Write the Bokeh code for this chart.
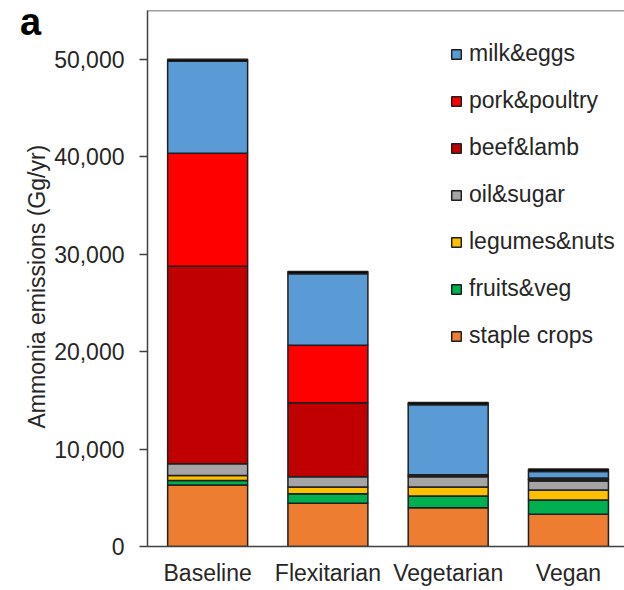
from bokeh.plotting import figure
from bokeh.models import (ColumnDataSource, Range1d, FixedTicker, NumeralTickFormatter,
                          Legend, LegendItem, Span, Div, Title)
from bokeh.layouts import column
from bokeh.embed import file_html
from bokeh.resources import INLINE

# ---- data ----
categories = ["Baseline", "Flexitarian", "Vegetarian", "Vegan"]
staple_crops = [6300, 4430, 3980, 3300]
fruits_veg = [480, 990, 1200, 1470]
legumes_nuts = [510, 680, 920, 1030]
oil_sugar = [1190, 1060, 1060, 920]
beef_lamb = [20280, 7590, 100, 150]
pork_poultry = [11590, 5890, 100, 150]
milk_eggs = [9440, 7340, 7180, 680]
other = [200, 230, 230, 240]

series = ["staple crops", "fruits&veg", "legumes&nuts", "oil&sugar",
          "beef&lamb", "pork&poultry", "milk&eggs", "other"]
colors = ["#ED7D31", "#00B050", "#FFC000", "#A5A5A5",
          "#C00000", "#FF0000", "#5B9BD5", "#000000"]
y_ticks = [0, 10000, 20000, 30000, 40000, 50000]

source = ColumnDataSource(data={
    "x": list(range(len(categories))),
    "staple crops": staple_crops,
    "fruits&veg": fruits_veg,
    "legumes&nuts": legumes_nuts,
    "oil&sugar": oil_sugar,
    "beef&lamb": beef_lamb,
    "pork&poultry": pork_poultry,
    "milk&eggs": milk_eggs,
    "other": other,
})

FONT = "Liberation Sans"
AX = "#404040"

p = figure(width=624, height=590, output_backend="svg", toolbar_location=None,
           x_range=Range1d(-0.5, 3.466), y_range=Range1d(0, 55000),
           min_border_left=147, min_border_right=0, min_border_top=10,
           min_border_bottom=44)
p.outline_line_color = None
p.xgrid.visible = False
p.ygrid.visible = False
p.background_fill_color = "white"

renderers = p.vbar_stack(series, x="x", width=0.665, color=colors, source=source,
                         line_color="#1f1f1f", line_width=1.5)

# x axis
p.xaxis.ticker = FixedTicker(ticks=list(range(len(categories))))
p.xaxis.major_label_overrides = {i: c for i, c in enumerate(categories)}
p.xaxis.major_tick_line_color = None
p.xaxis.minor_tick_line_color = None
p.xaxis.major_tick_out = 0
p.xaxis.major_label_standoff = 13
p.xaxis.major_label_text_font = FONT
p.xaxis.major_label_text_font_size = "23px"
p.xaxis.major_label_text_color = "#262626"
p.xaxis.axis_line_color = AX
p.xaxis.axis_line_width = 1.5

# y axis
p.yaxis.ticker = FixedTicker(ticks=y_ticks)
p.yaxis.formatter = NumeralTickFormatter(format="0,0")
p.yaxis.minor_tick_line_color = None
p.yaxis.major_tick_in = 0
p.yaxis.major_tick_out = 8
p.yaxis.major_tick_line_color = AX
p.yaxis.major_tick_line_width = 1.5
p.yaxis.axis_line_color = AX
p.yaxis.axis_line_width = 1.5
p.yaxis.major_label_standoff = 15
p.yaxis.major_label_text_font = FONT
p.yaxis.major_label_text_font_size = "23px"
p.yaxis.major_label_text_color = "#262626"

# y axis title (placed as a left-side title so it can sit a little below centre)
p.add_layout(Title(text="Ammonia emissions (Gg/yr)", align="left", offset=118,
                   standoff=4, text_font=FONT, text_font_size="23px",
                   text_font_style="normal", text_color="#262626"), "left")

# top border line
p.add_layout(Span(location=55000, dimension="width", line_color=AX, line_width=1.5))

# legend (top-to-bottom: milk&eggs ... staple crops)
legend_names = series[:7][::-1]
items = [LegendItem(label=n, renderers=[renderers[series.index(n)]]) for n in legend_names]
legend = Legend(items=items, location=(303, 197), orientation="vertical",
                glyph_width=12, glyph_height=12, label_standoff=7, spacing=20,
                padding=0, margin=0, border_line_color=None, background_fill_alpha=0,
                label_text_font=FONT, label_text_font_size="23px",
                label_text_color="#262626")
p.add_layout(legend)

panel_label = Div(text="a", width=40, height=45,
                  styles={"position": "absolute", "left": "15px", "top": "-3px",
                          "z-index": "10", "font-family": "Liberation Sans",
                          "font-size": "38px", "font-weight": "bold",
                          "color": "black", "line-height": "40px"})

layout = column(p, panel_label)

open("out.html", "w").write(file_html(layout, INLINE))
